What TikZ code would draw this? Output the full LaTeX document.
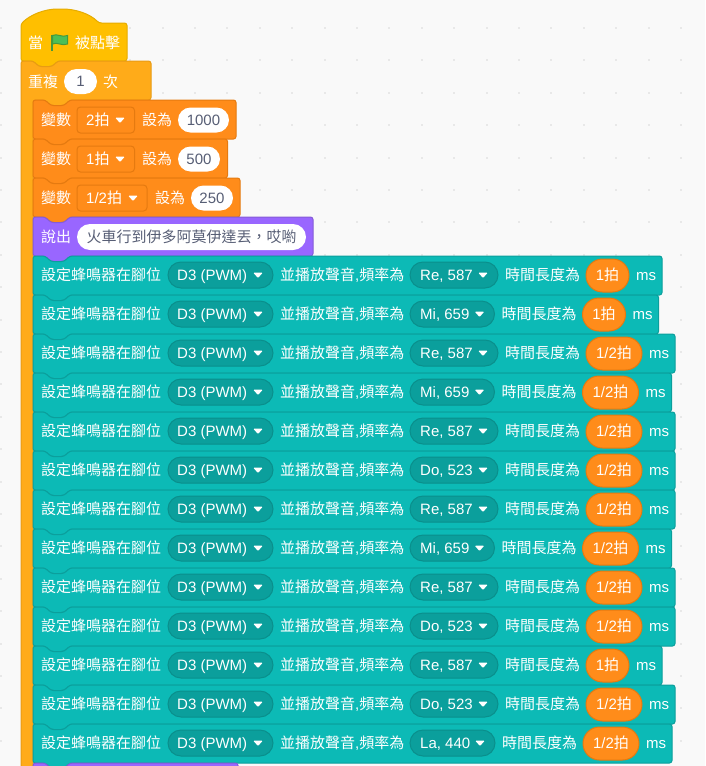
\documentclass[tikz,border=0pt]{standalone}
\usepackage{fontspec}
\usepackage{xcolor}
\setmainfont{Liberation Sans}
\newfontfamily\cjk{Noto Sans CJK TC}
\definecolor{hatfill}{HTML}{FFBF00}
\definecolor{hatline}{HTML}{E6AC00}
\definecolor{ctrlfill}{HTML}{FFAB19}
\definecolor{ctrlline}{HTML}{E89B14}
\definecolor{varfill}{HTML}{FF8C1A}
\definecolor{varline}{HTML}{E57A10}
\definecolor{sayfill}{HTML}{9966FF}
\definecolor{sayline}{HTML}{855CD6}
\definecolor{tealfill}{HTML}{0CBAB6}
\definecolor{tealline}{HTML}{0B9F9C}
\definecolor{tealdark}{HTML}{0B9F9C}
\definecolor{tealedge}{HTML}{0A8F8C}
\definecolor{valtext}{HTML}{575E75}
\definecolor{flagfill}{HTML}{4CBF56}
\definecolor{flagline}{HTML}{45993D}
\newcommand{\oneb}{1{\cjk 拍}}
\newcommand{\halfb}{1/2{\cjk 拍}}
% block with a notch on top and a bump below
\newcommand{\stackblock}[5]{
	\draw [#1,rounded corners=2.5] (#2,#4) -- (#2+12,#4) -- (#2+18,#4+5.5) -- (#2+31,#4+5.5) -- (#2+37,#4) -- (#3,#4) -- (#3,#5)
	-- (#2+37,#5) -- (#2+31,#5+5.5) -- (#2+18,#5+5.5) -- (#2+12,#5) -- (#2,#5) -- cycle;
}
\newcommand{\droptri}[2]{
	\fill [white,rounded corners=1] (#1-4.8,#2-2.4) -- (#1+4.8,#2-2.4) -- (#1,#2+3) -- cycle;
}
\tikzset{
	hatblock/.style={fill=hatfill,draw=hatline,line width=1},
	ctrlblock/.style={fill=ctrlfill,draw=ctrlline,line width=1},
	varblock/.style={fill=varfill,draw=varline,line width=1},
	sayblock/.style={fill=sayfill,draw=sayline,line width=1},
	tealblock/.style={fill=tealfill,draw=tealline,line width=1},
	lbl/.style={anchor=base west,inner sep=0,text=white,font=\fontsize{15}{18}\selectfont},
	valpill/.style={fill=white,rounded corners=12.5,minimum height=25,inner sep=0,text=valtext,text height=10.7,text depth=0,font=\fontsize{15}{18}\selectfont},
	varfield/.style={fill=varfill,draw=varline,line width=1,rounded corners=3.5,minimum height=26,inner sep=0},
	tealpill/.style={fill=tealdark,draw=tealedge,line width=1,rounded corners=13,minimum height=26,inner sep=0},
	durpill/.style={fill=varfill,draw=varline,line width=1,rounded corners=16.5,minimum height=33,inner sep=0,text=white,text height=10.7,text depth=0,font=\fontsize{15}{18}\selectfont},
}
\begin{document}
\begin{tikzpicture}[x=1pt,y=-1pt]
	\useasboundingbox (0,0) rectangle (705,766);
	\clip (0,0) rectangle (705,766);
	\fill [black!2.5] (0,0) rectangle (705,766);
	% dots of the workspace
	\foreach \a in {0,...,21}
	\foreach \b in {0,...,23}
	\fill [black!9] (0.5+32.4*\a-1,28+32.4*\b-1) rectangle +(2,2);
	% hat block
	\draw [hatblock,rounded corners=2.5] (21,61) -- (21,24) .. controls (30,15) and (44,9) .. (60,9)
	.. controls (76,9) and (90,14) .. (99,23) -- (127,23) -- (127,61) -- (58,61) -- (52,66.5) -- (39,66.5) -- (33,61) -- cycle;
	\node [lbl] (when) at (28,48) {\cjk 當};
	\draw [fill=flagfill,draw=flagline,line width=1] (52.5,35.5) .. controls (57,33) and (62,38) .. (67.5,35.5)
	-- (67.5,44) .. controls (62,46.5) and (57,41.5) .. (52.5,44) -- cycle;
	\draw [flagline,line width=1.5] (52,35) -- (52,50.5);
	\node [lbl] (clicked) at (75,48) {\cjk 被點擊};
	% repeat block, its arm runs off the picture
	\draw [ctrlblock,rounded corners=2.5] (21,61) -- (33,61) -- (39,66.5) -- (52,66.5) -- (58,61) -- (151,61) -- (151,100)
	-- (70,100) -- (64,105.5) -- (51,105.5) -- (45,100) -- (33,100) -- (33,800) -- (21,800) -- cycle;
	\node [lbl] (repeat) at (28,87) {\cjk 重複};
	\node [valpill,minimum width=33] (times) at (80.5,81.5) {1};
	\node [lbl] (ci) at (103,87) {\cjk 次};
	% set variable blocks
	\foreach \i/\v/\f/\t/\e/\w/\o/\r in {0/{2{\cjk 拍}}/134.5/120/142/51/1000/236,1/\oneb/134.5/120/142/42/500/227.5,2/\halfb/147/133/155/42/250/240}{
		\stackblock{varblock}{33}{\r}{100+39*\i}{139+39*\i}
		\node [lbl] (setvar\i) at (41,125.5+39*\i) {\cjk 變數};
		\node [varfield,minimum width=\f-77] (field\i) at ({(77+\f)/2},120+39*\i) {};
		\node [lbl] (beat\i) at (86,125.5+39*\i) {\v};
		\droptri{\t}{120+39*\i}
		\node [lbl] (setto\i) at (\e,125.5+39*\i) {\cjk 設為};
		\node [valpill,minimum width=\w] (val\i) at (\e+36+\w/2,120+39*\i) {\o};
	}
	% say block
	\stackblock{sayblock}{33}{313}{217}{256}
	\node [lbl] (say) at (41,242.5) {\cjk 說出};
	\node [valpill,minimum width=229,minimum height=26,rounded corners=13] (saytext) at (191.5,237) {\cjk 火車行到伊多阿莫伊達丟，哎喲};
	% buzzer blocks
	\foreach \i/\n/\e/\d/\w in {
		0/{Re, 587}/498/\oneb/43,
		1/{Mi, 659}/494.5/\oneb/43,
		2/{Re, 587}/498/\halfb/56,
		3/{Mi, 659}/494.5/\halfb/56,
		4/{Re, 587}/498/\halfb/56,
		5/{Do, 523}/498/\halfb/56,
		6/{Re, 587}/498/\halfb/56,
		7/{Mi, 659}/494.5/\halfb/56,
		8/{Re, 587}/498/\halfb/56,
		9/{Do, 523}/498/\halfb/56,
		10/{Re, 587}/498/\oneb/43,
		11/{Do, 523}/498/\halfb/56,
		12/{La, 440}/495/\halfb/56}{
		\stackblock{tealblock}{33}{\e+121+\w}{256+39*\i}{295+39*\i}
		\node [lbl] (buzz\i) at (41,280.5+39*\i) {\cjk 設定蜂鳴器在腳位};
		\node [tealpill,minimum width=105] (pinbg\i) at (220.5,275+39*\i) {};
		\node [lbl] (pin\i) at (177,280.5+39*\i) {D3 (PWM)};
		\droptri{258}{275+39*\i}
		\node [lbl] (play\i) at (280,280.5+39*\i) {{\cjk 並播放聲音},{\cjk 頻率為}};
		\node [tealpill,minimum width=\e-410] (notebg\i) at ({(410+\e)/2},275+39*\i) {};
		\node [lbl] (note\i) at (420,280.5+39*\i) {\n};
		\droptri{\e-15}{275+39*\i}
		\node [lbl] (len\i) at (\e+7,280.5+39*\i) {\cjk 時間長度為};
		\node [durpill,minimum width=\w] (dur\i) at (\e+88+\w/2,275.5+39*\i) {\d};
		\node [lbl] (ms\i) at (\e+95+\w,280.5+39*\i) {ms};
	}
	% next say block, cut by the lower edge
	\stackblock{sayblock}{33}{238}{763}{802}
\end{tikzpicture}
\end{document}
